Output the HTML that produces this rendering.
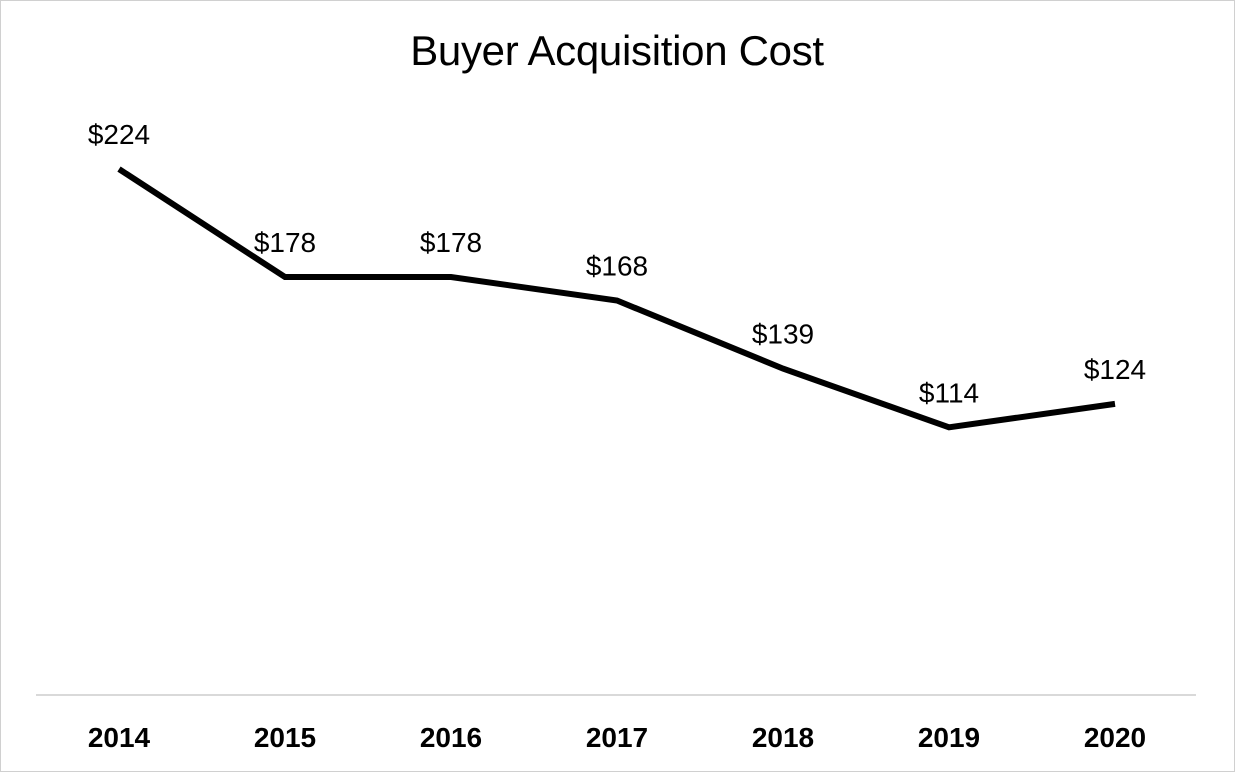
<!DOCTYPE html>
<html><head><meta charset="utf-8"><style>
body{margin:0;background:#fff}
svg{display:block;font-family:"Liberation Sans",Arial,sans-serif}
</style></head><body>
<svg id="chart" width="1235" height="772">
<rect x="0.5" y="0.5" width="1234" height="771" fill="#fff" stroke="#d0d0d0"/>
<text x="617" y="65" text-anchor="middle" font-size="42" fill="#000" letter-spacing="-0.3">Buyer Acquisition Cost</text>
<line x1="36" y1="695" x2="1196" y2="695" stroke="#d9d9d9" stroke-width="2"/>
<g id="marks"></g>
</svg>
<script>
const categories=["2014","2015","2016","2017","2018","2019","2020"];
const values=[224,178,178,168,139,114,124];
const labels=["$224","$178","$178","$168","$139","$114","$124"];
const ns="http://www.w3.org/2000/svg";
const left=36,step=166,y0=695,k=2.348;
function xs(i){return left+step*(i+0.5);}
function ys(v){return y0-k*v;}
const g=document.getElementById('marks');
const path=document.createElementNS(ns,'polyline');
path.setAttribute('points',values.map((v,i)=>xs(i)+','+ys(v)).join(' '));
path.setAttribute('fill','none');path.setAttribute('stroke','#000');path.setAttribute('stroke-width','6');


g.appendChild(path);
values.forEach((v,i)=>{
 const t=document.createElementNS(ns,'text');
 t.setAttribute('x',xs(i));t.setAttribute('y',ys(v)-25);t.setAttribute('text-anchor','middle');t.setAttribute('font-size','28');
 t.textContent=labels[i];
 
 
 g.appendChild(t);
 const c=document.createElementNS(ns,'text');
 c.setAttribute('x',xs(i));c.setAttribute('y',747);c.setAttribute('text-anchor','middle');c.setAttribute('font-size','28');c.setAttribute('font-weight','bold');
 c.textContent=categories[i];
 
 
 g.appendChild(c);
});
</script>
</body></html>
